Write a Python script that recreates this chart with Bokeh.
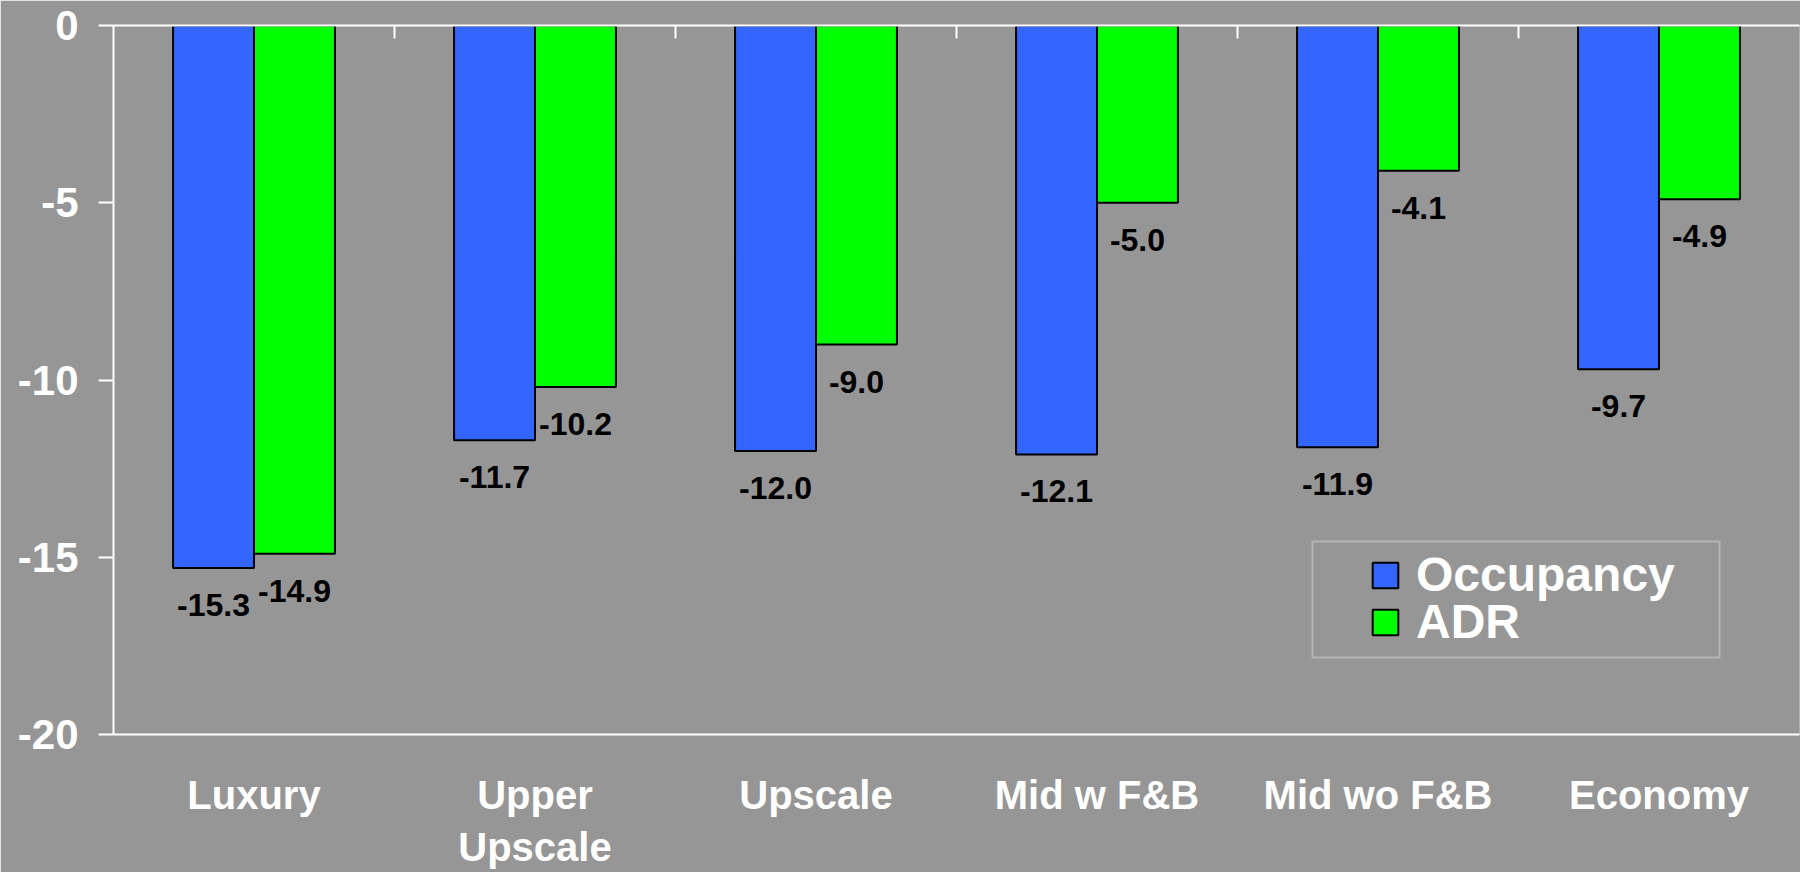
from bokeh.plotting import figure
from bokeh.models import (Range1d, FixedTicker, LinearAxis, Legend, LegendItem,
                          BoxAnnotation, ColumnDataSource)
from bokeh.embed import file_html
from bokeh.resources import INLINE
from bokeh.core.properties import value

categories = ["Luxury", "Upper\nUpscale", "Upscale", "Mid w F&B", "Mid wo F&B", "Economy"]
occupancy = [-15.3, -11.7, -12.0, -12.1, -11.9, -9.7]
adr = [-14.9, -10.2, -9.0, -5.0, -4.1, -4.9]
y_ticks = [0, -5, -10, -15, -20]
series_names = ["Occupancy", "ADR"]

BG = "#969696"
FONT = "Liberation Sans"
BLUE = "#3366FF"
GREEN = "#00FF00"

n = len(categories)
centers = [i + 0.5 for i in range(n)]
bar_w = 0.288
occ_x = [c - bar_w / 2 for c in centers]
adr_x = [c + bar_w / 2 for c in centers]

src = ColumnDataSource(dict(
    occ_x=occ_x, adr_x=adr_x, occ=occupancy, adr=adr,
    occ_lbl=[f"{v:.1f}" for v in occupancy],
    adr_lbl=[f"{v:.1f}" for v in adr],
))

p = figure(width=1800, height=872, x_range=Range1d(0, n), y_range=Range1d(-20, 0),
           output_backend="svg", toolbar_location=None,
           x_axis_location=None, y_axis_location=None,
           min_border_left=113, min_border_right=1, min_border_top=25, min_border_bottom=136)
p.background_fill_color = BG
p.border_fill_color = BG
p.outline_line_color = None
p.grid.visible = False

yax = LinearAxis(ticker=FixedTicker(ticks=y_ticks),
                 major_label_overrides={t: str(t) for t in y_ticks},
                 axis_line_color="white", axis_line_width=2,
                 major_tick_line_color="white", major_tick_line_width=2,
                 major_tick_out=15, major_tick_in=0, minor_tick_line_color=None,
                 major_label_standoff=20, major_label_text_color="white",
                 major_label_text_font=FONT, major_label_text_font_style="bold",
                 major_label_text_font_size="42px")
p.add_layout(yax, "left")

top = LinearAxis(ticker=FixedTicker(ticks=list(range(1, n))),
                 major_label_overrides={i: "" for i in range(1, n)},
                 axis_line_color="white", axis_line_width=2,
                 major_tick_in=13, major_tick_out=0,
                 major_tick_line_color="white", major_tick_line_width=2,
                 minor_tick_line_color=None, major_label_standoff=0,
                 major_label_text_font_size="1px")
p.add_layout(top, "above")

bot = LinearAxis(ticker=FixedTicker(ticks=centers),
                 major_label_overrides={c: cat for c, cat in zip(centers, categories)},
                 axis_line_color="white", axis_line_width=2,
                 major_tick_line_color=None, minor_tick_line_color=None,
                 major_label_standoff=32, major_label_text_color="white",
                 major_label_text_font=FONT, major_label_text_font_style="bold",
                 major_label_text_font_size="40px", major_label_text_line_height=1.2)
p.add_layout(bot, "below")

r1 = p.vbar(x="occ_x", top=0, bottom="occ", width=bar_w, fill_color=BLUE,
            line_color="black", line_width=2, source=src)
r2 = p.vbar(x="adr_x", top=0, bottom="adr", width=bar_w, fill_color=GREEN,
            line_color="black", line_width=2, source=src)

for xcol, ycol, tcol in (("occ_x", "occ", "occ_lbl"), ("adr_x", "adr", "adr_lbl")):
    p.text(x=xcol, y=ycol, text=tcol, source=src, text_align="center",
           text_baseline="middle", y_offset=37, text_font=value(FONT),
           text_font_style="bold", text_font_size="32px", text_color="black")

legend_style = dict(orientation="vertical", glyph_width=32, glyph_height=32,
                    label_standoff=15, label_text_color="white", label_text_font=FONT,
                    label_text_font_style="bold", label_text_font_size="48px",
                    label_text_line_height=1.0, padding=0, spacing=0, margin=0,
                    border_line_color=None, background_fill_alpha=0)
for name, rend, loc in zip(series_names, (r1, r2), ((1256, 132), (1256, 85))):
    lg = Legend(items=[LegendItem(label=name, renderers=[rend])], location=loc,
                **legend_style)
    p.add_layout(lg, "center")

box = BoxAnnotation(left=1312, right=1719, top=541, bottom=657,
                    left_units="canvas", right_units="canvas",
                    top_units="canvas", bottom_units="canvas",
                    fill_alpha=0, line_color="white", line_width=2)
p.add_layout(box)

open("out.html", "w").write(file_html(p, INLINE))
